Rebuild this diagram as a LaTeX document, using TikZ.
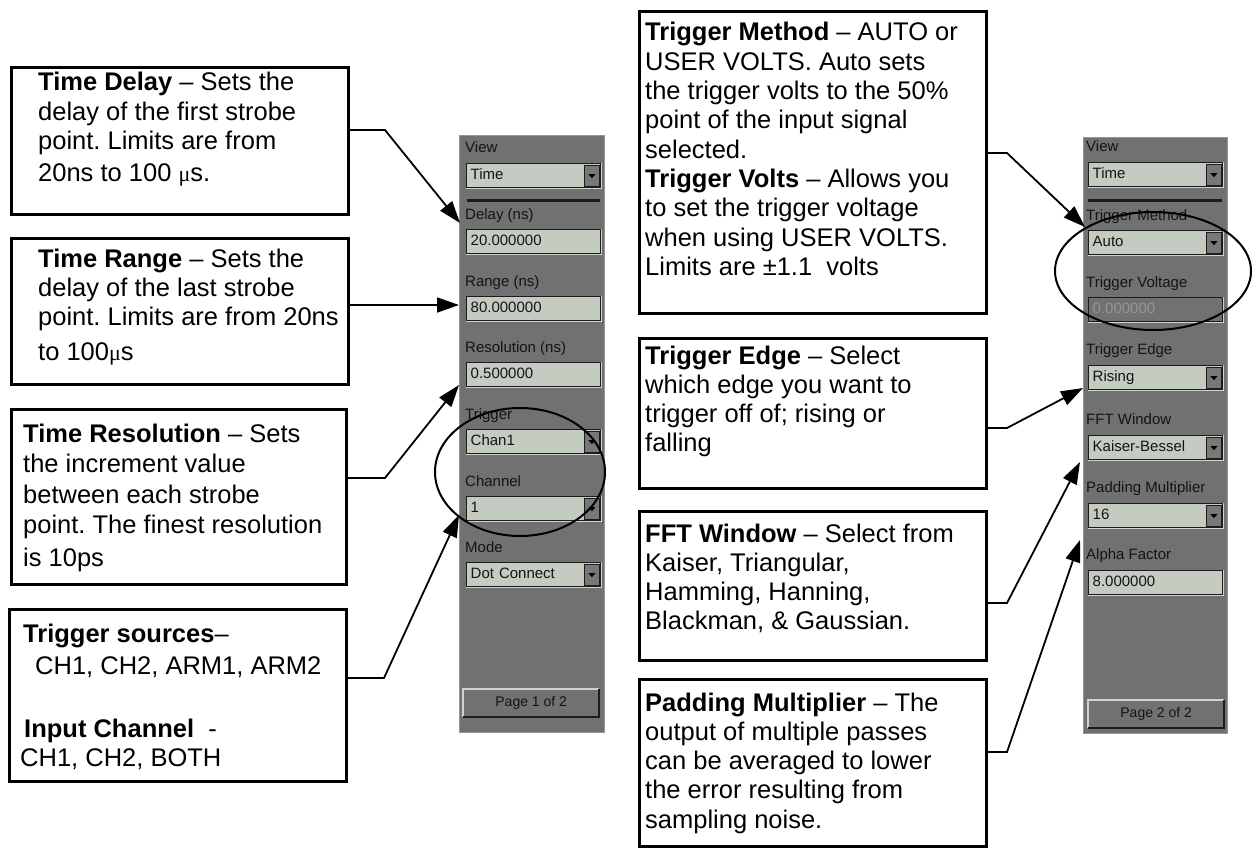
\documentclass[tikz,border=0pt]{standalone}
\usepackage{fontspec}
\setmainfont{Liberation Sans}
\newfontfamily\symbolfont{Liberation Serif}
\usetikzlibrary{arrows.meta}

\definecolor{uigray}{RGB}{113,113,113}
\definecolor{uiedge}{RGB}{150,150,150}
\definecolor{uifield}{RGB}{196,204,194}
\definecolor{uilight}{RGB}{205,212,203}
\definecolor{uidark}{RGB}{28,28,28}
\definecolor{uibtn}{RGB}{120,120,120}
\definecolor{uitext}{RGB}{20,20,20}
\definecolor{uidim}{RGB}{150,150,150}

% greek mu taken from the serif face
\newcommand{\musym}{{\symbolfont\fontsize{22}{29}\selectfont μ}}

\frenchspacing

\begin{document}
\begin{tikzpicture}[x=1pt,y=-1pt,
  callout/.style={draw,line width=2.6pt,anchor=north west,inner sep=0},
  note/.style={anchor=base west,inner sep=0,font=\fontsize{25.5}{29.3}\selectfont},
  panel/.style={anchor=north west,fill=uigray,draw=uiedge,line width=1pt,inner sep=0},
  uilabel/.style={anchor=west,inner sep=0,text=uitext,font=\fontsize{15}{18}\selectfont,text height=11pt,text depth=3pt},
  field/.style={anchor=north west,fill=uifield,draw=uidark,line width=1.4pt,minimum height=24pt,inner xsep=4pt,inner ysep=0,text width=126pt,align=left,text=uitext,font=\fontsize{15}{18}\selectfont,text height=11pt,text depth=3pt},
  dimfield/.style={field,fill=uigray,text=uidim},
  pagebtn/.style={anchor=north west,fill=uigray,minimum width=136pt,minimum height=28pt,inner sep=0,text=uitext,font=\fontsize{14}{16}\selectfont},
  link/.style={line width=1.8pt,-{Triangle[length=22pt,width=15pt]}},
  ring/.style={line width=2pt}]

\useasboundingbox[fill=white] (0,0) rectangle (1254,848);

% page 1 of the settings
\node[panel,minimum width=145pt,minimum height=597pt] (pageA) at (459,135) {};
\node[uilabel] (viewlblA) at (465,149) {View};
\node[field] (viewA) at (466,163) {Time};
\draw[uidark,line width=3pt] (467,201) -- (600,201);
\node[uilabel] (delaylbl) at (465,215) {Delay (ns)};
\node[field] (delayA) at (466,229) {20.000000};
\node[uilabel] (rangelbl) at (465,282) {Range (ns)};
\node[field] (rangeA) at (466,296) {80.000000};
\node[uilabel] (reslbl) at (465,348) {Resolution (ns)};
\node[field] (resA) at (466,362) {0.500000};
\node[uilabel] (triglbl) at (465,415) {Trigger};
\node[field] (trigA) at (466,429) {Chan1};
\node[uilabel] (chanlbl) at (465,482) {Channel};
\node[field] (chanA) at (466,496) {1};
\node[uilabel] (modelbl) at (465,548) {Mode};
\node[field] (modeA) at (466,562) {Dot Connect};
\node[pagebtn] (nextA) at (463,689) {Page 1 of 2};

% page 2 of the settings
\node[panel,minimum width=144pt,minimum height=596pt] (pageB) at (1083,137) {};
\node[uilabel] (viewlblB) at (1086,148) {View};
\node[field] (viewB) at (1088,162) {Time};
\draw[uidark,line width=3pt] (1088,201) -- (1222,201);
\node[uilabel] (methodlbl) at (1086,216) {Trigger Method};
\node[field] (methodB) at (1088,230) {Auto};
\node[uilabel] (voltlbl) at (1086,283) {Trigger Voltage};
\node[dimfield] (voltB) at (1088,297) {0.000000};
\node[uilabel] (edgelbl) at (1086,350) {Trigger Edge};
\node[field] (edgeB) at (1088,365) {Rising};
\node[uilabel] (windowlbl) at (1086,420) {FFT Window};
\node[field] (windowB) at (1088,435) {Kaiser-Bessel};
\node[uilabel] (padlbl) at (1086,488) {Padding Multiplier};
\node[field] (padB) at (1088,503) {16};
\node[uilabel] (alphalbl) at (1086,555) {Alpha Factor};
\node[field] (alphaB) at (1088,570) {8.000000};
\node[pagebtn] (nextB) at (1088,700) {Page 2 of 2};

% sunken edges of the entry boxes
\foreach \w in {viewA,delayA,rangeA,resA,trigA,chanA,modeA,viewB,methodB,voltB,edgeB,windowB,padB,alphaB}
  \draw[uilight,line width=1.2pt] (\w.south west) -- (\w.south east) -- (\w.north east);

% drop-down buttons
\foreach \w in {viewA,trigA,chanA,modeA,viewB,methodB,edgeB,windowB,padB}{
  \filldraw[fill=uibtn,draw=uidark,line width=0.8pt] ([xshift=-17pt,yshift=-2pt]\w.north east) rectangle ([xshift=-2pt,yshift=2pt]\w.south east);
  \fill[black] ([xshift=-13pt,yshift=1.5pt]\w.east) -- ++(7pt,0pt) -- ++(-3.5pt,-4pt) -- cycle;
}

% raised page buttons
\foreach \b in {nextA,nextB}{
  \draw[uilight,line width=1.5pt] (\b.south west) -- (\b.north west) -- (\b.north east);
  \draw[uidark,line width=2pt] (\b.north east) -- (\b.south east) -- (\b.south west);
}

\draw[ring] (520,472) ellipse [x radius=85pt,y radius=64pt];
\draw[ring] (1153,271) ellipse [x radius=98pt,y radius=59pt];

% callouts on the left
\node[callout,minimum width=337pt,minimum height=147pt] (delaybox) at (10,66) {};
\node[note] (delaytxt) at (38,91) {\parbox[t]{330pt}{\textbf{Time Delay} – Sets the\\
delay of the first strobe\\
point. Limits are from\\[3pt]
20ns to 100 \musym s.}};

\node[callout,minimum width=337pt,minimum height=146pt] (rangebox) at (10,237) {};
\node[note] (rangetxt) at (38,267) {\parbox[t]{330pt}{\textbf{Time Range} – Sets the\\
delay of the last strobe\\
point. Limits are from 20ns\\[6pt]
to 100\musym s}};

\node[callout,minimum width=335pt,minimum height=175pt] (resbox) at (10,408) {};
\node[note,font=\fontsize{25.5}{30.5}\selectfont] (restxt) at (23,442) {\parbox[t]{330pt}{\textbf{Time Resolution} – Sets\\
the increment value\\
between each strobe\\
point. The finest resolution\\[2pt]
is 10ps}};

\node[callout,minimum width=337pt,minimum height=172pt] (srcbox) at (8,608) {};
\node[note] (srctxt) at (23,642) {\parbox[t]{330pt}{\textbf{Trigger sources}–\\[3pt]
\hspace*{12pt}CH1, CH2, ARM1, ARM2\\[34pt]
\hspace*{1pt}\textbf{Input Channel}~~-\\
\hspace*{-3pt}CH1, CH2, BOTH}};

% callouts on the right
\node[callout,minimum width=347pt,minimum height=302pt] (methodbox) at (638,10) {};
\node[note] (methodtxt) at (645,41) {\parbox[t]{335pt}{\textbf{Trigger Method} – AUTO or\\
USER VOLTS. Auto sets\\
the trigger volts to the 50\%\\
point of the input signal\\
selected.\\
\textbf{Trigger Volts} – Allows you\\
to set the trigger voltage\\
when using USER VOLTS.\\
Limits are ±1.1~ volts}};

\node[callout,minimum width=347pt,minimum height=150pt] (edgebox) at (638,337) {};
\node[note] (edgetxt) at (645,364) {\parbox[t]{335pt}{\textbf{Trigger Edge} – Select\\
which edge you want to\\
trigger off of; rising or\\
falling}};

\node[callout,minimum width=347pt,minimum height=149pt] (windowbox) at (638,510) {};
\node[note] (windowtxt) at (645,542) {\parbox[t]{335pt}{\textbf{FFT Window} – Select from\\
Kaiser, Triangular,\\
Hamming, Hanning,\\
Blackman, \& Gaussian.}};

\node[callout,minimum width=347pt,minimum height=167pt] (padbox) at (638,678) {};
\node[note] (padtxt) at (645,711) {\parbox[t]{335pt}{\textbf{Padding Multiplier} – The\\
output of multiple passes\\
can be averaged to lower\\
the error resulting from\\
sampling noise.}};

% bends and tips of the arrows
\coordinate (delayknee) at (385,130);
\coordinate (delaytip) at (460,223);
\coordinate (rangetip) at (459,305);
\coordinate (resknee) at (385,478);
\coordinate (restip) at (459,385);
\coordinate (srcknee) at (384,678);
\coordinate (srctip) at (459,515);
\coordinate (methodknee) at (1007,153);
\coordinate (methodtip) at (1085,227);
\coordinate (edgeknee) at (1007,428);
\coordinate (edgetip) at (1083,388);
\coordinate (windowknee) at (1007,603);
\coordinate (windowtip) at (1080,462);
\coordinate (padknee) at (1007,752);
\coordinate (padtip) at (1080,540);

\draw[link] (delaybox.east |- delayknee) -- (delayknee) -- (delaytip);
\draw[link] (rangebox.east |- rangetip) -- (rangetip);
\foreach \from in {res,src,method,edge,window,pad}
  \draw[link] (\from box.east |- \from knee) -- (\from knee) -- (\from tip);

\end{tikzpicture}
\end{document}
